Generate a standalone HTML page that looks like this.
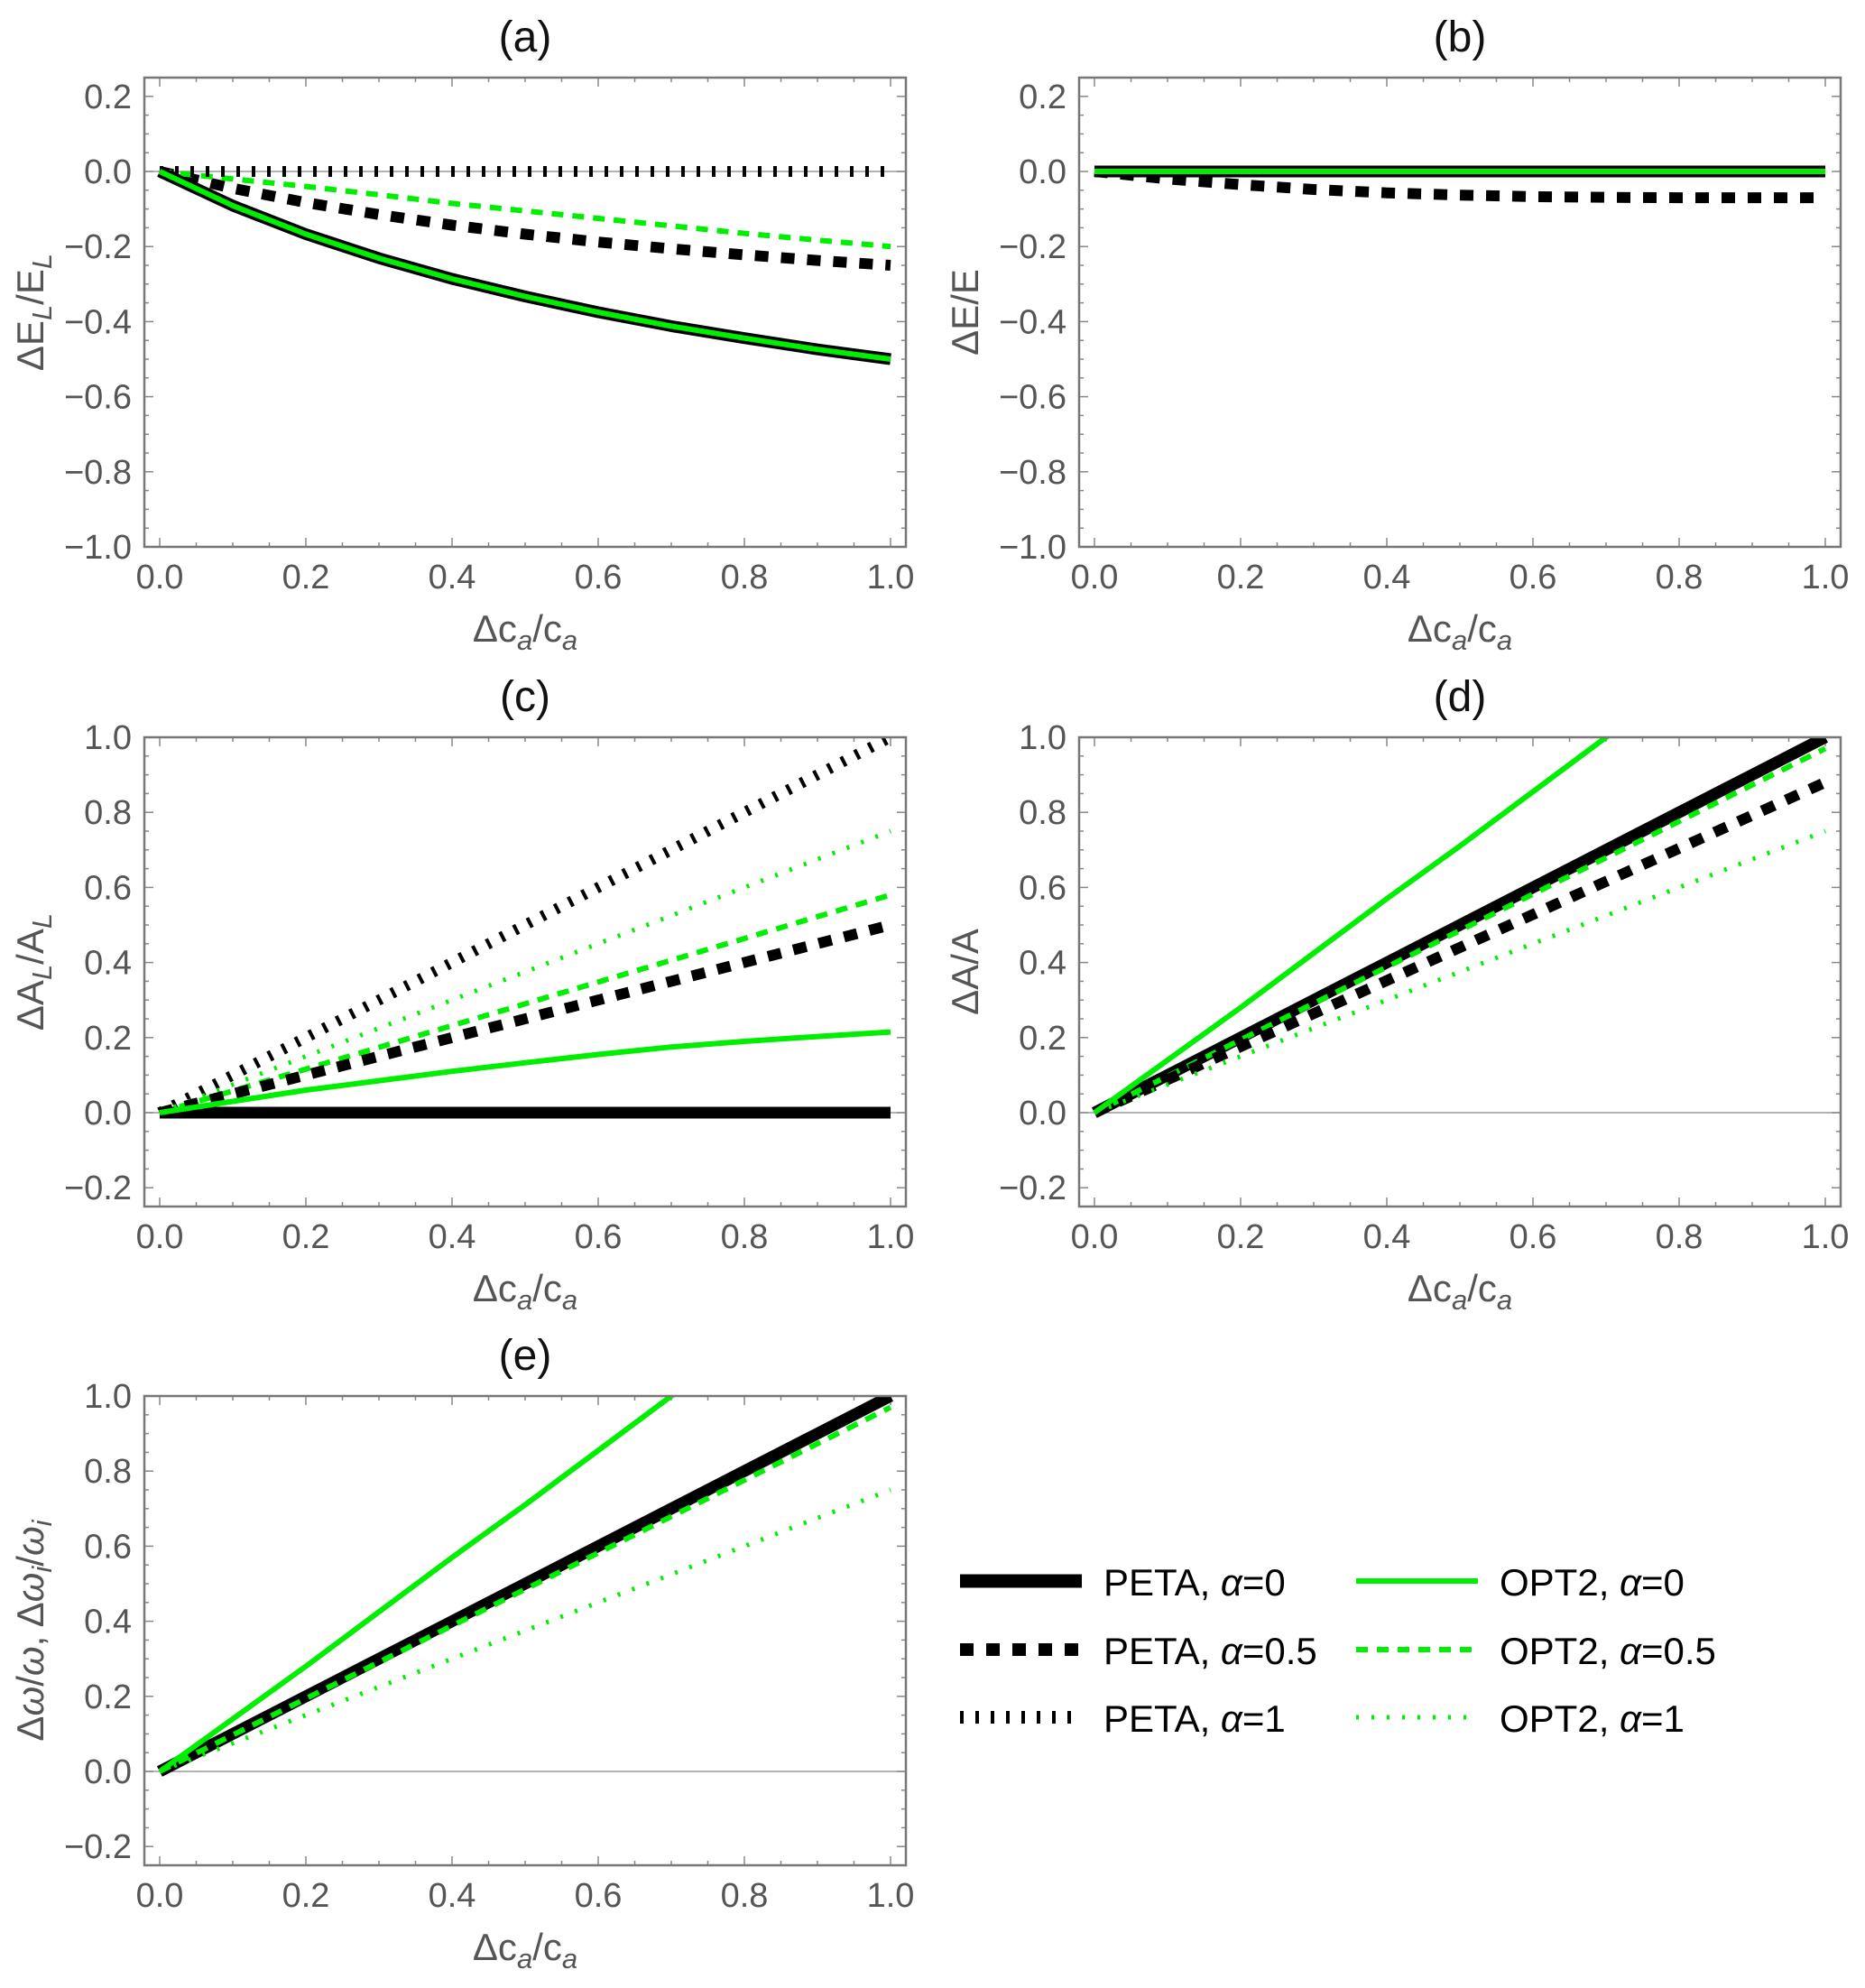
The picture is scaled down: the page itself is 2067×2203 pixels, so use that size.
<!DOCTYPE html>
<html><head><meta charset="utf-8"><style>
html,body{margin:0;padding:0;background:#fff;}
svg text{font-family:"Liberation Sans Narrow","Liberation Sans",sans-serif;}
</style></head><body>
<svg id="fig" width="2067" height="2198" viewBox="0 0 2067 2198" xmlns="http://www.w3.org/2000/svg">
<rect x="0" y="0" width="2067" height="2198" fill="#fff"/>
</svg>
<script>
const xs = [0,0.1,0.2,0.3,0.4,0.5,0.6,0.7,0.8,0.9,1.0];
const xTicks = ["0.0","0.2","0.4","0.6","0.8","1.0"];
const yTicksTop = ["0.2","0.0","\u22120.2","\u22120.4","\u22120.6","\u22120.8","\u22121.0"];
const yTicksBot = ["1.0","0.8","0.6","0.4","0.2","0.0","\u22120.2"];
// panel a
const aPetaA0 = [0,-0.091,-0.167,-0.231,-0.286,-0.333,-0.375,-0.412,-0.444,-0.474,-0.5];
const aPetaA05 = [0,-0.045,-0.083,-0.115,-0.143,-0.167,-0.188,-0.206,-0.222,-0.237,-0.25];
const aPetaA1 = [0,0,0,0,0,0,0,0,0,0,0];
const aOptA0 = [0,-0.091,-0.167,-0.231,-0.286,-0.333,-0.375,-0.412,-0.444,-0.474,-0.5];
const aOptA05 = [0,-0.02,-0.04,-0.062,-0.085,-0.105,-0.125,-0.145,-0.165,-0.183,-0.2];
const aOptA1 = [0,0,0,0,0,0,0,0,0,0,0];
// panel b
const bPetaA0 = [0,0,0,0,0,0,0,0,0,0,0];
const bPetaA05 = [0,-0.02,-0.035,-0.048,-0.057,-0.063,-0.067,-0.069,-0.07,-0.07,-0.07];
const bPetaA1 = [0,0,0,0,0,0,0,0,0,0,0];
const bOptA0 = [0,0,0,0,0,0,0,0,0,0,0];
const bOptA05 = [0,0,0,0,0,0,0,0,0,0,0];
const bOptA1 = [0,0,0,0,0,0,0,0,0,0,0];
// panel c
const cPetaA0 = [0,0,0,0,0,0,0,0,0,0,0];
const cPetaA05 = [0,0.05,0.1,0.15,0.2,0.25,0.3,0.35,0.4,0.45,0.5];
const cPetaA1 = [0,0.1,0.2,0.3,0.4,0.5,0.6,0.7,0.8,0.9,1.0];
const cOptA0 = [0,0.03,0.06,0.085,0.11,0.133,0.155,0.175,0.19,0.203,0.215];
const cOptA05 = [0,0.058,0.116,0.174,0.232,0.29,0.348,0.406,0.464,0.522,0.58];
const cOptA1 = [0,0.075,0.15,0.225,0.3,0.375,0.45,0.525,0.6,0.675,0.75];
// panel d
const dPetaA0 = [0,0.1,0.2,0.3,0.4,0.5,0.6,0.7,0.8,0.9,1.0];
const dPetaA05 = [0,0.088,0.176,0.264,0.352,0.44,0.528,0.616,0.704,0.792,0.88];
const dPetaA1 = [0,0.1,0.2,0.3,0.4,0.5,0.6,0.7,0.8,0.9,1.0];
const dOptA0 = [0,0.14,0.28,0.425,0.57,0.71,0.855,1.0,1.14,1.28,1.42];
const dOptA05 = [0,0.097,0.194,0.291,0.388,0.485,0.582,0.679,0.776,0.873,0.97];
const dOptA1 = [0,0.075,0.15,0.225,0.3,0.375,0.45,0.525,0.6,0.675,0.75];
// panel e
const ePetaA0 = [0,0.1,0.2,0.3,0.4,0.5,0.6,0.7,0.8,0.9,1.0];
const ePetaA05 = [0,0.1,0.2,0.3,0.4,0.5,0.6,0.7,0.8,0.9,1.0];
const ePetaA1 = [0,0.1,0.2,0.3,0.4,0.5,0.6,0.7,0.8,0.9,1.0];
const eOptA0 = [0,0.14,0.28,0.425,0.57,0.71,0.855,1.0,1.14,1.28,1.42];
const eOptA05 = [0,0.097,0.194,0.291,0.388,0.485,0.582,0.679,0.776,0.873,0.97];
const eOptA1 = [0,0.075,0.15,0.225,0.3,0.375,0.45,0.525,0.6,0.675,0.75];

const NS = "http://www.w3.org/2000/svg";
const svg = document.getElementById('fig');
function mk(tag, attrs, parent){const e=document.createElementNS(NS,tag);for(const k in attrs)e.setAttribute(k,attrs[k]);(parent||svg).appendChild(e);return e;}

const styles = {
  petaA0:{stroke:"#000",w:13,dash:null},
  petaA05:{stroke:"#000",w:12,dash:"15 14"},
  petaA1:{stroke:"#000",w:12,dash:"4 13"},
  optA0:{stroke:"#00ee00",w:6,dash:null},
  optA05:{stroke:"#00ee00",w:6,dash:"13 10"},
  optA1:{stroke:"#00ee00",w:5,dash:"3 14"}
};

function panel(id, title, col, row, ymin, ymax, yLabels, yTitle, series, zeroLine){
  const x0 = col===0?177:1213, x1 = col===0?987:2023;
  const top = [86,817,1547][row], bot = top+520;
  const sx = v => x0 + (x1-x0)*v;
  const sy = v => bot - (bot-top)*(v-ymin)/(ymax-ymin);
  const L = x0-17, R = x1+17;
  const g = mk('g',{});
  
  
  const t = mk('text',{x:(L+R)/2,y:top-29,'text-anchor':'middle','font-size':48,fill:'#111'},g);
  t.textContent = title;
  
  
  const cp = mk('clipPath',{id:'clip-'+id},g);
  mk('rect',{x:L,y:top,width:R-L,height:bot-top},cp);
  if(zeroLine){
    const zl = mk('line',{x1:L,x2:R,y1:sy(0),y2:sy(0),stroke:'#999','stroke-width':1.5},g);
    
    
  }
  const tg = mk('g',{stroke:'#888','stroke-width':1.5},g);
  for(let i=0;i<=20;i++){
    const v=i*0.05, len=(i%4===0)?10:5, X=sx(v);
    mk('line',{x1:X,x2:X,y1:bot,y2:bot-len},tg);
    mk('line',{x1:X,x2:X,y1:top,y2:top+len},tg);
  }
  for(let v=Math.ceil(ymin*20-1e-6);v<=Math.floor(ymax*20+1e-6);v++){
    const Y=sy(v/20), len=(v%4===0)?10:5;
    mk('line',{x1:L,x2:L+len,y1:Y,y2:Y},tg);
    mk('line',{x1:R,x2:R-len,y1:Y,y2:Y},tg);
  }
  xTicks.forEach((s,i)=>{
    const tx = mk('text',{x:sx(i*0.2),y:bot+46,'text-anchor':'middle','font-size':38,fill:'#555'},g);
    tx.textContent=s;
    
    
  });
  yLabels.forEach(s=>{
    const v = parseFloat(s.replace('\u2212','-'));
    const ty = mk('text',{x:L-14,y:sy(v)+13,'text-anchor':'end','font-size':38,fill:'#555'},g);
    ty.textContent=s;
    
    
  });
  const xt = mk('text',{x:(x0+x1)/2,y:bot+105,'text-anchor':'middle','font-size':42,fill:'#555'},g);
  xt.innerHTML = '\u0394c<tspan font-style="italic" font-size="31" dy="9">a</tspan><tspan dy="-9">/c</tspan><tspan font-style="italic" font-size="31" dy="9">a</tspan>';
  
  
  const yt = mk('text',{x:0,y:0,'text-anchor':'middle','font-size':42,fill:'#555',transform:`translate(${L-112},${(top+bot)/2}) rotate(-90)`},g);
  yt.innerHTML = yTitle;
  
  
  const sg = mk('g',{'clip-path':`url(#clip-${id})`,fill:'none'},g);
  series.forEach(([key,vals,name])=>{
    const st = styles[key];
    const d = vals.map((v,i)=>(i?'L':'M')+sx(xs[i]).toFixed(1)+','+sy(v).toFixed(1)).join(' ');
    if(key==='optA0' && (id==='a'||id==='b')){
      const o = mk('path',{d,stroke:'#000','stroke-width':st.w+6,'stroke-linejoin':'round'},sg);
      
      
    }
    const p = mk('path',{d,stroke:st.stroke,'stroke-width':st.w,'stroke-linejoin':'round'},sg);
    if(st.dash) p.setAttribute('stroke-dasharray',st.dash);
    
    
  });
  const fr = mk('rect',{x:L,y:top,width:R-L,height:bot-top,fill:'none',stroke:'#777','stroke-width':2.5},g);
  
  
}
const it = s=>`<tspan font-style="italic" font-size="31" dy="9">${s}</tspan>`;
panel('a','(a)',0,0,-1.0,0.25,yTicksTop,'\u0394E'+it('L')+'<tspan dy="-9">/E</tspan>'+it('L'),
 [['petaA0',aPetaA0,'peta-a0-line'],['petaA05',aPetaA05,'peta-a05-line'],['optA05',aOptA05,'opt2-a05-line'],['optA1',aOptA1,'opt2-a1-line'],['petaA1',aPetaA1,'peta-a1-line'],['optA0',aOptA0,'opt2-a0-line']],true);
panel('b','(b)',1,0,-1.0,0.25,yTicksTop,'\u0394E/E',
 [['petaA05',bPetaA05,'peta-a05-line'],['petaA1',bPetaA1,'peta-a1-line'],['optA05',bOptA05,'opt2-a05-line'],['optA1',bOptA1,'opt2-a1-line'],['petaA0',bPetaA0,'peta-a0-line'],['optA0',bOptA0,'opt2-a0-line']],false);
panel('c','(c)',0,1,-0.25,1.0,yTicksBot,'\u0394A'+it('L')+'<tspan dy="-9">/A</tspan>'+it('L'),
 [['petaA0',cPetaA0,'peta-a0-line'],['petaA1',cPetaA1,'peta-a1-line'],['optA1',cOptA1,'opt2-a1-line'],['optA05',cOptA05,'opt2-a05-line'],['petaA05',cPetaA05,'peta-a05-line'],['optA0',cOptA0,'opt2-a0-line']],true);
panel('d','(d)',1,1,-0.25,1.0,yTicksBot,'\u0394A/A',
 [['petaA1',dPetaA1,'peta-a1-line'],['petaA0',dPetaA0,'peta-a0-line'],['optA05',dOptA05,'opt2-a05-line'],['petaA05',dPetaA05,'peta-a05-line'],['optA1',dOptA1,'opt2-a1-line'],['optA0',dOptA0,'opt2-a0-line']],true);
panel('e','(e)',0,2,-0.25,1.0,yTicksBot,'\u0394<tspan font-style="italic">\u03c9</tspan>/<tspan font-style="italic">\u03c9</tspan>, \u0394<tspan font-style="italic">\u03c9</tspan>'+it('i')+'<tspan dy="-9">/</tspan><tspan font-style="italic">\u03c9</tspan>'+it('i'),
 [['petaA1',ePetaA1,'peta-a1-line'],['petaA05',ePetaA05,'peta-a05-line'],['petaA0',ePetaA0,'peta-a0-line'],['optA05',eOptA05,'opt2-a05-line'],['optA1',eOptA1,'opt2-a1-line'],['optA0',eOptA0,'opt2-a0-line']],true);

// legend
const legendKeys = ['petaA0','petaA05','petaA1','optA0','optA05','optA1'];
const legendLabels = ['PETA, ','PETA, ','PETA, ','OPT2, ','OPT2, ','OPT2, '];
const legendAlpha = ['0','0.5','1','0','0.5','1'];
const lg = mk('g',{});


legendKeys.forEach((k,i)=>{
  const col = i<3?0:1, r=i%3;
  const lx = col?1503:1064, ty = [1752,1828,1903][r];
  const st = styles[k];
  const e = mk('g',{},lg);
  
  
  const ln = mk('line',{x1:lx,x2:lx+135,y1:ty,y2:ty,stroke:st.stroke,'stroke-width':st.w+(col?0:2)},e);
  if(st.dash) ln.setAttribute('stroke-dasharray',st.dash);
  const tx = mk('text',{x:lx+159,y:ty+16,'font-size':42,fill:'#000'},e);
  tx.innerHTML = legendLabels[i]+'<tspan font-style="italic">\u03b1</tspan>='+legendAlpha[i];
});
</script>
</body></html>
